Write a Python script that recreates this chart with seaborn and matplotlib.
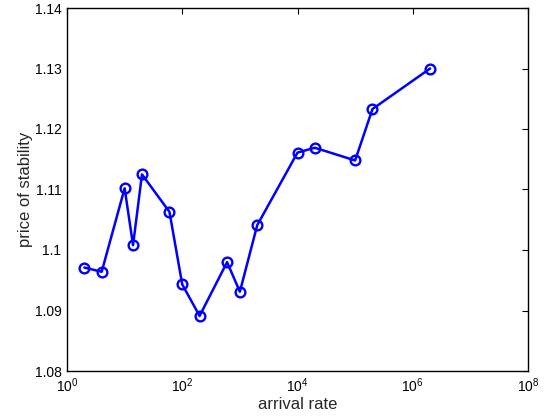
import matplotlib
matplotlib.use('Agg')

import numpy as np
import pandas as pd
import seaborn as sns
from matplotlib import pyplot as plt
from matplotlib.ticker import FixedLocator, FixedFormatter, NullLocator

arrival_rate = [2, 4, 10, 14, 20, 60, 100, 200, 600, 1000, 2000,
                1e4, 2e4, 1e5, 2e5, 2e6]
price_of_stability = [1.0971, 1.0964, 1.1102, 1.1008, 1.1125, 1.1063, 1.0943, 1.0891,
                      1.0980, 1.0931, 1.1041, 1.1161, 1.1169, 1.1148, 1.1233, 1.1300]

y_ticks = [1.08, 1.09, 1.10, 1.11, 1.12, 1.13, 1.14]
y_tick_labels = ['1.08', '1.09', '1.1', '1.11', '1.12', '1.13', '1.14']
x_ticks = [1e0, 1e2, 1e4, 1e6, 1e8]

sns.set_style('white')
plt.rcParams['font.family'] = ['Liberation Sans', 'DejaVu Sans']
plt.rcParams['mathtext.default'] = 'regular'

df = pd.DataFrame({'arrival rate': arrival_rate, 'price of stability': price_of_stability})

fig = plt.figure(figsize=(5.44, 4.19), dpi=100)
ax = fig.add_axes([67 / 544, (419 - 371) / 419, (528 - 67) / 544, (371 - 8) / 419])

sns.lineplot(data=df, x='arrival rate', y='price of stability', ax=ax,
             color='#0000ff', linewidth=1.8, marker='o', markersize=7,
             markerfacecolor='none', markeredgecolor='#0000ff', markeredgewidth=1.7)

ax.set_xscale('log')
ax.set_xlim(1e0, 1e8)
ax.set_ylim(1.08, 1.14)
ax.xaxis.set_major_locator(FixedLocator(x_ticks))
ax.xaxis.set_minor_locator(NullLocator())
ax.set_xticklabels(['$10^{%d}$' % int(np.log10(v)) for v in x_ticks])
ax.yaxis.set_major_locator(FixedLocator(y_ticks))
ax.yaxis.set_major_formatter(FixedFormatter(y_tick_labels))

for side in ['top', 'right', 'bottom', 'left']:
    ax.spines[side].set_visible(True)
    ax.spines[side].set_color('black')
    ax.spines[side].set_linewidth(1.0)
ax.tick_params(direction='in', length=4, width=0.8, top=True, right=True,
               labelsize=10, colors='black', pad=4)
ax.set_xlabel('arrival rate', fontsize=12, labelpad=1)
ax.set_ylabel('price of stability', fontsize=12, labelpad=1)

fig.savefig('out.png', dpi=100)
